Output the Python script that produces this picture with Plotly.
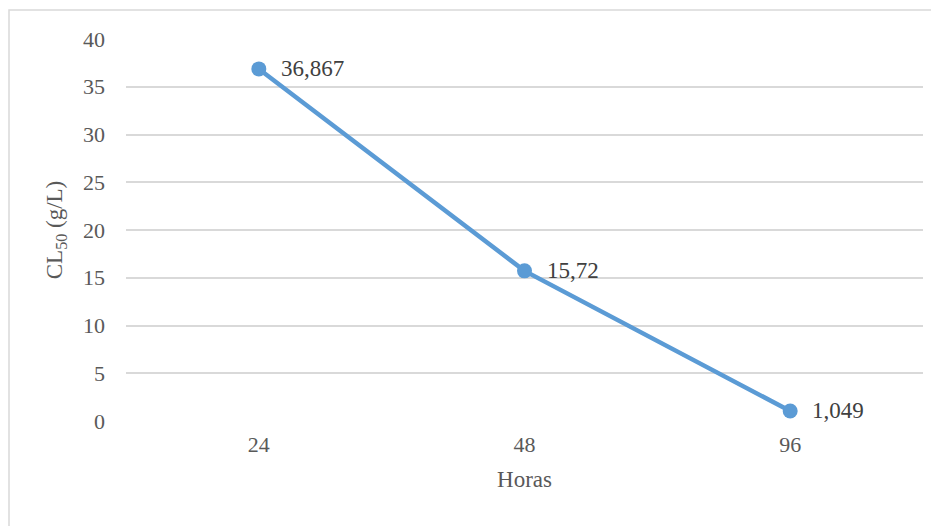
import plotly.graph_objects as go

categories = ["24", "48", "96"]
values = [36.867, 15.72, 1.049]
labels = ["36,867", "15,72", "1,049"]
y_ticks = [0, 5, 10, 15, 20, 25, 30, 35, 40]

# page body has an 8px margin, so the figure is laid out 8px smaller
W, H = 931, 518
L, R, T, B = 118, 16, 31, 104.5
pw = W - L - R
ph = H - T - B

fig = go.Figure()
fig.add_trace(go.Scatter(
    x=categories, y=values, mode="lines+markers",
    line=dict(color="#5B9BD5", width=4.5),
    marker=dict(color="#5B9BD5", size=15),
    cliponaxis=False, showlegend=False, hoverinfo="x+y",
))

for i, (v, t) in enumerate(zip(values, labels)):
    fig.add_annotation(x=i, y=v, xref="x", yref="y", text=t, showarrow=False,
                       xanchor="left", yanchor="middle", xshift=20,
                       font=dict(family="Liberation Serif", size=23, color="#404040"))

fig.update_layout(
    width=W, height=H,
    margin=dict(l=L, r=R, t=T, b=B),
    paper_bgcolor="white", plot_bgcolor="white",
    font=dict(family="Liberation Serif", size=22, color="#595959"),
    xaxis=dict(type="category", range=[-0.5, 2.5], showgrid=False,
               showline=False, zeroline=False, ticks="", ticklabelstandoff=8,
               title=dict(text="Horas", font=dict(size=23, color="#595959"), standoff=14)),
    yaxis=dict(range=[0, 40], tickvals=y_ticks, showgrid=True, gridcolor="#D9D9D9",
               gridwidth=1.5, zeroline=False, showline=False, ticks="",
               ticklabelstandoff=20,
               title=dict(text="CL<sub>50</sub> (g/L)", font=dict(size=23, color="#595959"), standoff=13)),
    shapes=[dict(type="rect", xref="paper", yref="paper",
                 x0=(1 - L) / pw, x1=(W + 20 - L) / pw,
                 y0=(H - B - (H + 20)) / ph, y1=(H - B - 2) / ph,
                 line=dict(color="#D9D9D9", width=1.5), layer="below")],
)

fig.write_html("out.html")
